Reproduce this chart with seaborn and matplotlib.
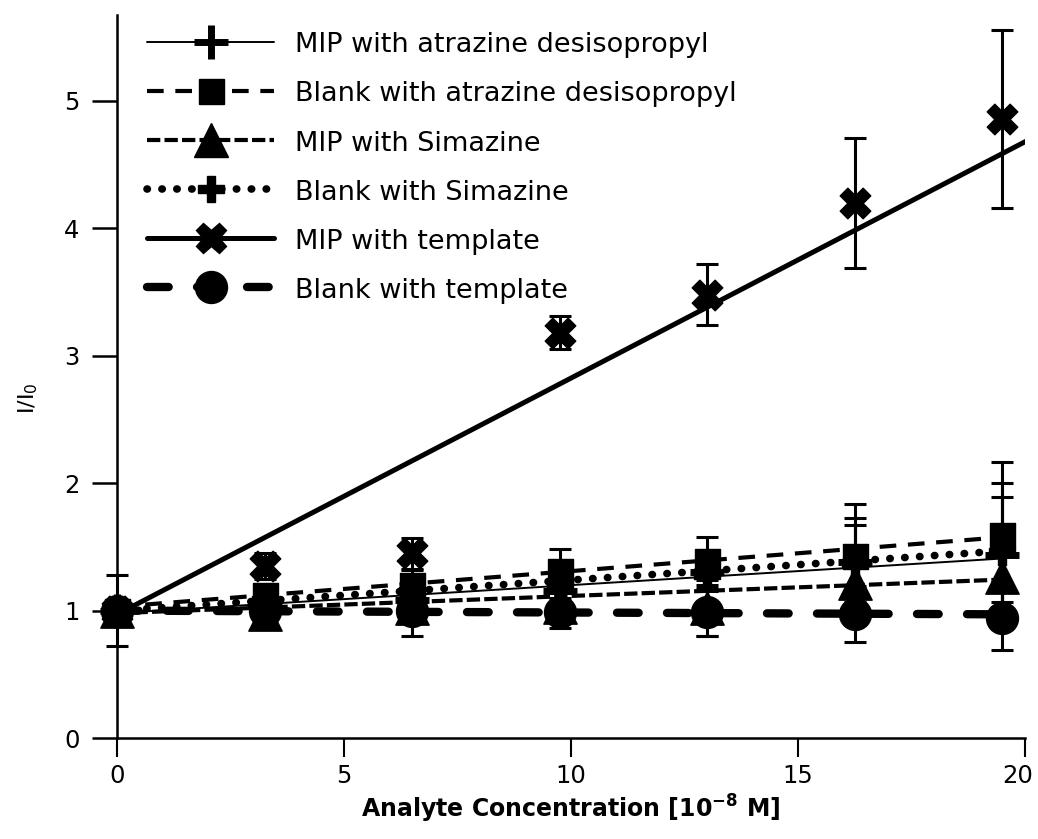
import numpy as np
import pandas as pd
import seaborn as sns
import matplotlib
matplotlib.use("Agg")
import matplotlib.pyplot as plt
from matplotlib.lines import Line2D
from matplotlib.transforms import ScaledTranslation

# Analyte concentration (10^-8 M)
conc = [0, 3.25, 6.5, 9.75, 13.0, 16.25, 19.5]

series_names = [
    "MIP with atrazine desisopropyl",
    "Blank with atrazine desisopropyl",
    "MIP with Simazine",
    "Blank with Simazine",
    "MIP with template",
    "Blank with template",
]

# Relative intensity I/I0 and standard deviations
mip_atrazine = [1.00, 1.05, 1.08, 1.15, 1.30, 1.38, 1.44]
mip_atrazine_err = [0.05, 0.06, 0.08, 0.12, 0.15, 0.35, 0.56]
blank_atrazine = [1.00, 1.12, 1.20, 1.31, 1.39, 1.43, 1.59]
blank_atrazine_err = [0.05, 0.08, 0.12, 0.17, 0.19, 0.41, 0.58]
mip_simazine = [1.00, 0.97, 1.02, 1.03, 1.02, 1.22, 1.26]
mip_simazine_err = [0.05, 0.05, 0.22, 0.17, 0.22, 0.12, 0.19]
blank_simazine = [1.00, 1.08, 1.15, 1.20, 1.28, 1.37, 1.46]
blank_simazine_err = [0.05, 0.05, 0.06, 0.10, 0.12, 0.30, 0.43]
mip_template = [1.00, 1.35, 1.45, 3.18, 3.48, 4.20, 4.86]
mip_template_err = [0.28, 0.10, 0.12, 0.13, 0.24, 0.51, 0.70]
blank_template = [1.00, 1.00, 1.00, 0.99, 0.99, 0.97, 0.94]
blank_template_err = [0.05, 0.05, 0.05, 0.05, 0.19, 0.22, 0.25]

# Linear trend lines: intercept, slope, last x
trend_intercept = [0.98, 1.03, 0.98, 1.00, 0.97, 1.00]
trend_slope = [0.022, 0.028, 0.0135, 0.024, 0.1855, -0.0015]
trend_end = [19.5, 19.5, 19.5, 19.5, 20.05, 19.5]

values = [mip_atrazine, blank_atrazine, mip_simazine, blank_simazine,
          mip_template, blank_template]
errors = [mip_atrazine_err, blank_atrazine_err, mip_simazine_err,
          blank_simazine_err, mip_template_err, blank_template_err]

df = pd.concat(
    [pd.DataFrame({"conc": conc, "ratio": v, "err": e, "series": n})
     for n, v, e in zip(series_names, values, errors)],
    ignore_index=True,
)

# Drawing styles per series
marker_style = {
    series_names[0]: dict(marker="+", ms=24, mew=5),
    series_names[1]: dict(marker="s", ms=18, mew=1),
    series_names[2]: dict(marker="^", ms=24, mew=1),
    series_names[3]: dict(marker="P", ms=19, mew=1),
    series_names[4]: dict(marker="X", ms=22, mew=1),
    series_names[5]: dict(marker="o", ms=23, mew=1),
}
line_style = {
    series_names[0]: dict(lw=1.4, ls="-"),
    series_names[1]: dict(lw=3.0, ls=(0, (4.0, 2.8))),
    series_names[2]: dict(lw=3.0, ls=(0, (3.2, 1.0))),
    series_names[3]: dict(lw=5.5, ls=(0, (0.05, 1.9)), dash_capstyle="round"),
    series_names[4]: dict(lw=3.6, ls="-"),
    series_names[5]: dict(lw=6.0, ls=(0, (2.6, 3.4)), dash_capstyle="round"),
}

sns.set_style("white")
plt.rcParams["font.family"] = ["DejaVu Sans"]
for key in ("text.color", "axes.labelcolor", "xtick.color", "ytick.color",
            "axes.edgecolor"):
    plt.rcParams[key] = "black"

fig = plt.figure(figsize=(10.38, 8.39), dpi=100)
W, H = 1038, 839
ax = fig.add_axes([117 / W, (H - 738) / H, (1025 - 117) / W, (738 - 15) / H])

# trend lines
for i, name in enumerate(series_names):
    xs = np.array([0.0, trend_end[i]])
    ys = trend_intercept[i] + trend_slope[i] * xs
    st = line_style[name]
    extra = {k: v for k, v in st.items() if k not in ("lw", "ls")}
    sns.lineplot(x=xs, y=ys, ax=ax, color="black", lw=st["lw"],
                 linestyle=st["ls"], zorder=2, **extra)

# error bars
for name in series_names:
    sub = df[df["series"] == name]
    eb = ax.errorbar(sub["conc"], sub["ratio"], yerr=sub["err"], fmt="none",
                     ecolor="black", elinewidth=2.2, capsize=8, capthick=2.2,
                     zorder=3)
    for art in eb.lines[1] + eb.lines[2]:
        art.set_clip_on(False)

# data markers
for name in series_names:
    sub = df[df["series"] == name]
    ms = marker_style[name]
    if ms["marker"] == "+":
        sns.scatterplot(x=sub["conc"], y=sub["ratio"], ax=ax, marker="+",
                        s=ms["ms"] ** 2, color="black", linewidth=ms["mew"],
                        zorder=4, clip_on=False, legend=False)
    else:
        sns.scatterplot(x=sub["conc"], y=sub["ratio"], ax=ax,
                        marker=ms["marker"], s=ms["ms"] ** 2, color="black",
                        edgecolor="black", linewidth=ms["mew"], zorder=4,
                        clip_on=False, legend=False)

ax.set_xlim(0, 20)
ax.set_ylim(0, 5.675)
ax.set_xticks([0, 5, 10, 15, 20])
ax.set_yticks([0, 1, 2, 3, 4, 5])
for side in ("top", "right"):
    ax.spines[side].set_visible(False)
for side in ("left", "bottom"):
    ax.spines[side].set_linewidth(1.8)
    ax.spines[side].set_color("black")
ax.tick_params(axis="y", direction="out", length=18, width=1.8, pad=9,
               labelsize=17.5, left=True)
ax.tick_params(axis="x", direction="out", length=14, width=1.5, pad=5,
               labelsize=17.5, bottom=True)

# keep the last x tick label inside the canvas
last_label = ax.get_xticklabels()[-1]
last_label.set_transform(last_label.get_transform()
                         + ScaledTranslation(-5 / 72, 0, fig.dpi_scale_trans))

ax.set_xlabel(r"Analyte Concentration [10$^{\mathbf{-8}}$ M]", fontsize=17,
              fontweight="bold", labelpad=3)
ax.set_ylabel(r"I/I$_{\mathrm{0}}$", fontsize=16)
ax.yaxis.set_label_coords(-0.085, 0.47)

# legend
handles = []
for name in series_names:
    ms = marker_style[name]
    st = line_style[name]
    extra = {k: v for k, v in st.items() if k not in ("lw", "ls")}
    handles.append(Line2D([0], [0], color="black", lw=st["lw"],
                          linestyle=st["ls"], marker=ms["marker"],
                          markersize=ms["ms"], markeredgewidth=ms["mew"],
                          markerfacecolor="black", markeredgecolor="black",
                          **extra))
ax.legend(handles, series_names, loc="upper left",
          bbox_to_anchor=(147 / W, 1 - 31 / H), bbox_transform=fig.transFigure,
          frameon=False, fontsize=19.5, handlelength=4.7, handletextpad=0.75,
          labelspacing=0.8, borderpad=0, borderaxespad=0, handleheight=1.0)

fig.savefig("out.png", dpi=100)
